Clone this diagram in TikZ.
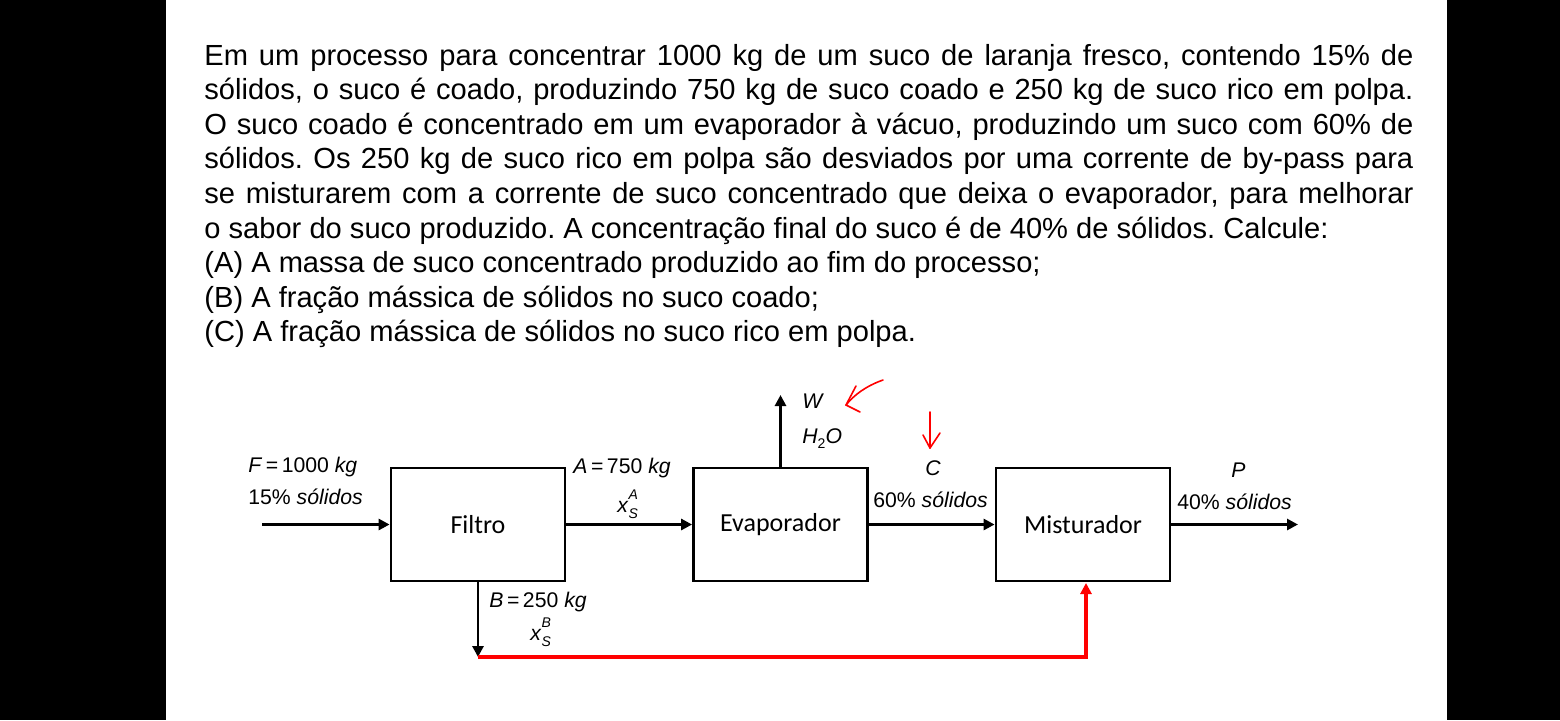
\documentclass[tikz,border=0pt]{standalone}
\usepackage{fontspec}
\setmainfont{Liberation Sans}
\newfontfamily\boxfont{Carlito}
\usetikzlibrary{arrows.meta}
\frenchspacing
\begin{document}
\begin{tikzpicture}[x=0.5pt,y=-0.5pt,
  txt/.style={anchor=base west,inner sep=0pt,font=\fontsize{14.55}{17}\selectfont},
  lbl/.style={anchor=base west,inner sep=0pt,font=\fontsize{10.6}{12}\selectfont},
  unit/.style={draw,line width=1.4pt,minimum width=87pt,minimum height=56.5pt,inner sep=0pt,font=\boxfont\fontsize{13}{15}\selectfont},
  arr/.style={line width=1.4pt,-{Triangle[length=5.5pt,width=5.5pt]}},
  rarr/.style={line width=1.6pt,draw=red,-{Triangle[length=5.5pt,width=5.5pt]}},
  hand/.style={draw=red,line width=0.8pt,line cap=round,line join=round}]
\useasboundingbox (0,0) rectangle (1560,720);
\fill[white] (0,0) rectangle (1560,720);
\fill[black] (0,0) rectangle (166,720);
\fill[black] (1447,0) rectangle (1560,720);
\newcommand{\jl}[1]{\makebox[604.5pt][s]{#1}}
\node[txt] (l1) at (204,65) {\jl{Em um processo para concentrar 1000 kg de um suco de laranja fresco, contendo 15\% de}};
\node[txt] (l2) at (204,99.6) {\jl{sólidos, o suco é coado, produzindo 750 kg de suco coado e 250 kg de suco rico em polpa.}};
\node[txt] (l3) at (204,134.2) {\jl{O suco coado é concentrado em um evaporador à vácuo, produzindo um suco com 60\% de}};
\node[txt] (l4) at (204,168.8) {\jl{sólidos. Os 250 kg de suco rico em polpa são desviados por uma corrente de by-pass para}};
\node[txt] (l5) at (204,203.4) {\jl{se misturarem com a corrente de suco concentrado que deixa o evaporador, para melhorar}};
\node[txt] (l6) at (204,238) {o sabor do suco produzido. A concentração final do suco é de 40\% de sólidos. Calcule:};
\node[txt] (l7) at (204,272.6) {(A) A massa de suco concentrado produzido ao fim do processo;};
\node[txt] (l8) at (204,307.2) {(B) A fração mássica de sólidos no suco coado;};
\node[txt] (l9) at (204,341.8) {(C) A fração mássica de sólidos no suco rico em polpa.};
% boxes
\node[unit] (filtro) at (478,524.5) {Filtro};
\node[unit] (evap) at (780.5,524.5) {Evaporador};
\node[unit] (mist) at (1083,524.5) {Misturador};
% free ends
\coordinate (in) at (262,524.5);
\coordinate (out) at (1298,524.5);
\coordinate (wend) at (780.5,395);
\coordinate (bend) at (478,657);
\coordinate (rc) at (1086,657);
\coordinate (rtip) at (1086,583);
% connectors
\draw[arr] (in) -- (filtro.west);
\draw[arr] (filtro.east) -- (evap.west);
\draw[arr] (evap.east) -- (mist.west);
\draw[arr] (mist.east) -- (out);
\draw[arr] (evap.north) -- (wend);
\draw[arr] (filtro.south) -- (bend);
\draw[rarr] (bend) -- (rc) -- (rtip);
% labels
\node[lbl] (fl) at (248,472) {\textit{F}\,=\,1000 \textit{kg}};
\node[lbl] (fs) at (248,504) {15\% \textit{sólidos}};
\node[lbl] (al) at (573,473) {\textit{A}\,=\,750 \textit{kg}};
\node[lbl] (ax) at (617,512) {\textit{x}\makebox[0pt][l]{\raisebox{1.1ex}{\scriptsize\textit{A}}}\raisebox{-0.55ex}{\scriptsize\textit{S}}};
\node[lbl] (bl) at (489,607) {\textit{B}\,=\,250 \textit{kg}};
\node[lbl] (bx) at (530,640) {\textit{x}\makebox[0pt][l]{\raisebox{1.1ex}{\scriptsize\textit{B}}}\raisebox{-0.55ex}{\scriptsize\textit{S}}};
\node[lbl] (wl) at (802,408) {\textit{W}};
\node[lbl] (hl) at (802,443) {\textit{H}\raisebox{-0.5ex}{\scriptsize 2}\textit{O}};
\node[lbl] (cl) at (925,475) {\textit{C}};
\node[lbl] (cs) at (873,507) {60\% \textit{sólidos}};
\node[lbl] (pl) at (1231,477) {\textit{P}};
\node[lbl] (ps) at (1177,509) {40\% \textit{sólidos}};
% hand-drawn red marks
\draw[hand] (883,380) .. controls (866,386) and (854,395) .. (846,405);
\draw[hand] (856,386) -- (846,405) -- (860,412);
\draw[hand] (930,412) -- (930,448);
\draw[hand] (923,435) -- (930,448) -- (940,433);
\end{tikzpicture}
\end{document}
